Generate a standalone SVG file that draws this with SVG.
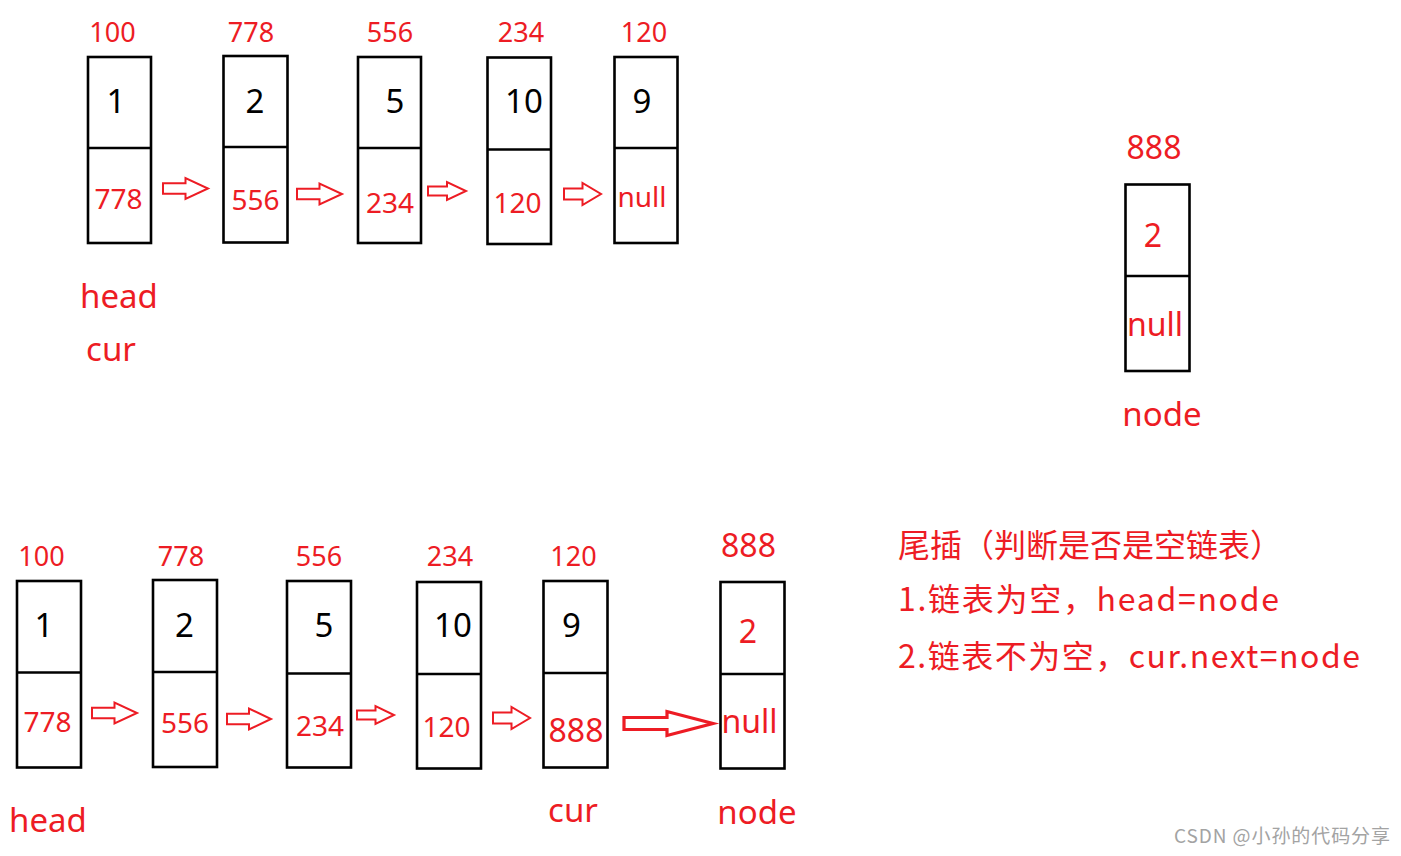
<svg xmlns="http://www.w3.org/2000/svg" width="1401" height="856" viewBox="0 0 1401 856">
<style>
.box{fill:#fff;stroke:#000;stroke-width:2.6}
.div{stroke:#000;stroke-width:2.4}
.t{font-family:"Noto Sans","Noto Sans CJK SC",sans-serif;text-anchor:middle}
.addr{fill:#ed1c24;font-size:27px}
.val{fill:#000;font-size:33px}
.ptr{fill:#ed1c24;font-size:28px}
.big{fill:#ed1c24;font-size:32px}
.lbl{fill:#ed1c24;font-size:33px}
.arr{fill:#fff;stroke:#ed1c24;stroke-width:2;stroke-linejoin:miter}
.arrb{fill:#fff;stroke:#ed1c24;stroke-width:3.2;stroke-linejoin:miter}
.note{font-family:"Noto Sans CJK SC","Noto Sans",sans-serif;fill:#ed1c24;font-size:32px}
.wm{font-family:"Noto Sans CJK SC","Noto Sans",sans-serif;fill:#a3a3a3;font-size:19px}
</style>
<rect width="1401" height="856" fill="#fff"/>

<!-- top row -->
<g id="t1">
<rect class="box" x="88" y="57" width="63" height="186"/><line class="div" x1="88" y1="148" x2="151" y2="148"/>
<text class="t addr" x="112.5" y="42">100</text><text class="t val" x="116" y="113">1</text><text class="t ptr" x="118.5" y="209">778</text>
</g>
<g id="t2">
<rect class="box" x="223.5" y="56" width="64" height="186.5"/><line class="div" x1="223.5" y1="147" x2="287.5" y2="147"/>
<text class="t addr" x="251" y="42">778</text><text class="t val" x="255" y="113">2</text><text class="t ptr" x="255.5" y="210">556</text>
</g>
<g id="t3">
<rect class="box" x="358" y="57" width="63" height="186"/><line class="div" x1="358" y1="148" x2="421" y2="148"/>
<text class="t addr" x="390" y="42">556</text><text class="t val" x="395" y="113">5</text><text class="t ptr" x="390" y="213">234</text>
</g>
<g id="t4">
<rect class="box" x="487.5" y="57.5" width="63.5" height="186.5"/><line class="div" x1="487.5" y1="149.5" x2="551" y2="149.5"/>
<text class="t addr" x="521" y="42">234</text><text class="t val" x="524" y="113">10</text><text class="t ptr" x="517.5" y="213">120</text>
</g>
<g id="t5">
<rect class="box" x="614.5" y="57" width="63" height="186"/><line class="div" x1="614.5" y1="148" x2="677.5" y2="148"/>
<text class="t addr" x="644" y="42">120</text><text class="t val" x="642" y="113">9</text><text class="t ptr" x="642" y="207">null</text>
</g>
<g id="top-labels">
<text class="t lbl" x="119" y="308">head</text>
<text class="t lbl" x="111" y="361">cur</text>
</g>

<!-- new node -->
<g id="newnode">
<rect class="box" x="1125.5" y="184.5" width="64" height="186.5"/><line class="div" x1="1125.5" y1="276" x2="1189.5" y2="276"/>
<text class="t big" x="1154" y="159">888</text><text class="t big" x="1153" y="247">2</text><text class="t big" x="1155" y="336">null</text>
<text class="t lbl" x="1162" y="426">node</text>
</g>

<!-- bottom row -->
<g id="b1">
<rect class="box" x="17" y="581" width="64" height="186.5"/><line class="div" x1="17" y1="672.5" x2="81" y2="672.5"/>
<text class="t addr" x="41.5" y="566">100</text><text class="t val" x="44" y="637">1</text><text class="t ptr" x="47.5" y="732">778</text>
</g>
<g id="b2">
<rect class="box" x="153" y="580" width="64" height="187"/><line class="div" x1="153" y1="672" x2="217" y2="672"/>
<text class="t addr" x="181" y="566">778</text><text class="t val" x="184.5" y="637">2</text><text class="t ptr" x="185" y="733">556</text>
</g>
<g id="b3">
<rect class="box" x="287" y="581" width="64" height="186.5"/><line class="div" x1="287" y1="673.5" x2="351" y2="673.5"/>
<text class="t addr" x="319" y="566">556</text><text class="t val" x="324" y="637">5</text><text class="t ptr" x="320" y="736">234</text>
</g>
<g id="b4">
<rect class="box" x="417" y="582" width="64" height="186.5"/><line class="div" x1="417" y1="674" x2="481" y2="674"/>
<text class="t addr" x="450" y="566">234</text><text class="t val" x="453" y="637">10</text><text class="t ptr" x="446.5" y="737">120</text>
</g>
<g id="b5">
<rect class="box" x="543.5" y="581" width="64" height="186.5"/><line class="div" x1="543.5" y1="673" x2="607.5" y2="673"/>
<text class="t addr" x="573.5" y="566">120</text><text class="t val" x="571.5" y="637">9</text><text class="t big" x="576" y="742">888</text>
<text class="t lbl" x="573" y="822">cur</text>
</g>
<g id="b6">
<rect class="box" x="720.5" y="582" width="64" height="186.5"/><line class="div" x1="720.5" y1="674" x2="784.5" y2="674"/>
<text class="t big" x="748.5" y="557">888</text><text class="t big" x="748" y="643">2</text><text class="t big" x="749.5" y="733">null</text>
<text class="t lbl" x="757" y="824">node</text>
</g>
<g id="bottom-labels">
<text class="t lbl" x="48" y="832">head</text>
</g>

<!-- connectors -->
<g id="connectors">
<polygon class="arr" points="163,183.25 185.5,183.25 185.5,178 208,188.5 185.5,199 185.5,193.75 163,193.75"/>
<polygon class="arr" points="297,188.75 319.5,188.75 319.5,183.5 342,194 319.5,204.5 319.5,199.25 297,199.25"/>
<polygon class="arr" points="428,186.5 447,186.5 447,182 466,191 447,200 447,195.5 428,195.5"/>
<polygon class="arr" points="564,188.5 582.5,188.5 582.5,183 601,194 582.5,205 582.5,199.5 564,199.5"/>
<polygon class="arr" points="92,707.75 114.5,707.75 114.5,702.5 137,713 114.5,723.5 114.5,718.25 92,718.25"/>
<polygon class="arr" points="227,713.75 249,713.75 249,708.5 271,719 249,729.5 249,724.25 227,724.25"/>
<polygon class="arr" points="357,710.5 375.5,710.5 375.5,706 394,715 375.5,724 375.5,719.5 357,719.5"/>
<polygon class="arr" points="493,712.5 511.5,712.5 511.5,707 530,718 511.5,729 511.5,723.5 493,723.5"/>
<polygon class="arrb" points="624,717.5 667,717.5 667,711.5 713,723.5 667,735.5 667,729.5 624,729.5"/>
</g>

<!-- notes -->
<g id="notes">
<text class="note" x="898" y="557">尾插（判断是否是空链表）</text>
<text class="note" x="898" y="611" textLength="381" lengthAdjust="spacing">1.链表为空，head=node</text>
<text class="note" x="898" y="668" textLength="462" lengthAdjust="spacing">2.链表不为空，cur.next=node</text>
</g>
<text class="wm" x="1174" y="843" textLength="216" lengthAdjust="spacing">CSDN @小孙的代码分享</text>
</svg>
